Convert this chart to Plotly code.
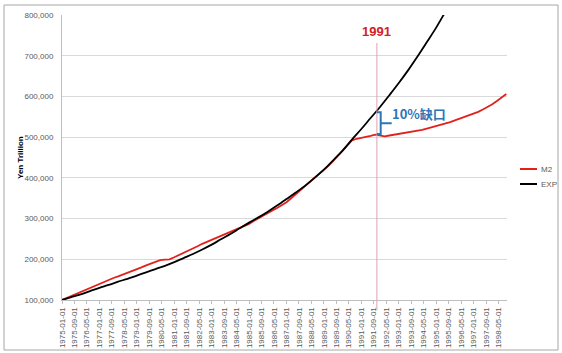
import pandas as pd
import plotly.graph_objects as go

# ---- data (values in thousand yen-units) ----
m2_start = "1975-01-01"          # quarterly M2 readings
m2_values = [100, 105, 110, 115, 120, 125, 130, 135, 140, 145, 150, 154,
             158, 162, 167, 171, 175, 180, 185, 189, 194, 198, 199, 200,
             205, 210, 215, 221, 226, 232, 238, 243, 248, 252, 257, 261,
             266, 271, 276, 281, 287, 294, 301, 308, 314, 320, 326, 332,
             340, 350, 360, 370, 380, 390, 400, 409, 418, 430, 442, 455,
             466, 478, 492, 496, 498, 500, 503, 506, 504, 502, 504, 506,
             508, 509, 511, 513, 516, 518, 521, 524, 527, 530, 534, 537,
             541, 545, 549, 553, 557, 562, 568, 574, 581, 589, 597, 606]
exp_start = "1975-01-01"         # half-yearly EXP readings
exp_values = [100, 107, 114, 122, 130, 137, 145, 152, 160, 168, 176, 184,
              193, 203, 213, 224, 236, 249, 262, 276, 290, 303, 317, 332,
              348, 364, 381, 400, 420, 443, 467, 494, 520, 547, 574, 603,
              633, 664, 698, 733, 769, 808, 848]
series_names = ["M2", "EXP"]
tick_labels = ["1975-01-01", "1975-09-01", "1976-05-01", "1977-01-01", "1977-09-01",
               "1978-05-01", "1979-01-01", "1979-09-01", "1980-05-01", "1981-01-01",
               "1981-09-01", "1982-05-01", "1983-01-01", "1983-09-01", "1984-05-01",
               "1985-01-01", "1985-09-01", "1986-05-01", "1987-01-01", "1987-09-01",
               "1988-05-01", "1989-01-01", "1989-09-01", "1990-05-01", "1991-01-01",
               "1991-09-01", "1992-05-01", "1993-01-01", "1993-09-01", "1994-05-01",
               "1995-01-01", "1995-09-01", "1996-05-01", "1997-01-01", "1997-09-01",
               "1998-05-01"]
y_ticks = [100000, 200000, 300000, 400000, 500000, 600000, 700000, 800000]
event_date = "1991-11-01"
event_label = "1991"
gap_label = "10%缺口"
y_title = "Yen Trillion"
x_end = "1998-10-15"

m2_dates = pd.date_range(m2_start, periods=len(m2_values), freq="3MS")
exp_dates = pd.date_range(exp_start, periods=len(exp_values), freq="6MS")

RED = "#e3211c"
BLUE = "#2e75b6"
GRAY = "#595959"
FONT = "Liberation Sans"
COLORS = [RED, "black"]

fig = go.Figure()
fig.add_trace(go.Scatter(x=m2_dates, y=[v * 1000 for v in m2_values], mode="lines",
                         name=series_names[0], line=dict(color=COLORS[0], width=1.8)))
fig.add_trace(go.Scatter(x=exp_dates, y=[v * 1000 for v in exp_values], mode="lines",
                         name=series_names[1], line=dict(color=COLORS[1], width=1.8,
                                                         shape="spline")))

# plot area in px: x 62..507, y 15..300
L, R, T, B = 62, 507, 15, 300
W, H = R - L, B - T
px = lambda v: (v - L) / W
py = lambda v: (B - v) / H

shapes = [
    # outer chart border
    dict(type="rect", xref="paper", yref="paper", x0=px(4), x1=px(558), y0=py(350), y1=py(5),
         line=dict(color="#a6a6a6", width=1), layer="below"),
    # event vertical line
    dict(type="line", xref="x", yref="paper", x0=event_date, x1=event_date,
         y0=py(310), y1=py(43), line=dict(color="#d9a3ae", width=1)),
    # bracket
    dict(type="path", xref="paper", yref="paper",
         path=f"M {px(376.7)},{py(112.3)} L {px(380.7)},{py(112.3)} L {px(380.7)},{py(134)} "
              f"L {px(376.7)},{py(134)} M {px(380.7)},{py(123.3)} L {px(391.7)},{py(123.3)}",
         line=dict(color=BLUE, width=2)),
]

annotations = [
    dict(text=f"<b>{event_label}</b>", xref="x", yref="paper", x=event_date, y=py(32),
         showarrow=False, font=dict(color="#d42027", size=13, family=FONT),
         xanchor="center", yanchor="middle"),
    dict(text=f"<b>{gap_label}</b>", xref="paper", yref="paper", x=px(390), y=py(114),
         showarrow=False, font=dict(color=BLUE, size=13, family="Noto Sans CJK SC"),
         xanchor="left", yanchor="middle"),
    dict(text=f"<b>{y_title}</b>", xref="paper", yref="paper", x=px(20), y=py(158),
         showarrow=False, textangle=-90, font=dict(color="black", size=8, family=FONT),
         xanchor="center", yanchor="middle"),
]

# manual legend (right side)
for i, (name, col) in enumerate(zip(series_names, COLORS)):
    ly = 169 + 15 * i
    shapes.append(dict(type="line", xref="paper", yref="paper", x0=px(520), x1=px(537),
                       y0=py(ly), y1=py(ly), line=dict(color=col, width=2)))
    annotations.append(dict(text=name, xref="paper", yref="paper", x=px(539), y=py(ly),
                            showarrow=False, xanchor="left", yanchor="middle",
                            font=dict(size=8, color=GRAY, family=FONT)))

fig.update_layout(
    width=562, height=353,
    margin=dict(l=L, r=562 - R, t=T, b=353 - B, autoexpand=False),
    paper_bgcolor="white", plot_bgcolor="white",
    font=dict(family=FONT, size=8, color=GRAY),
    showlegend=False,
    shapes=shapes,
    annotations=annotations,
    xaxis=dict(type="date", range=[m2_start, x_end], tickmode="array",
               tickvals=tick_labels, ticktext=tick_labels, tickangle=-90,
               showgrid=False, showline=True, linecolor="#bfbfbf", linewidth=1,
               ticks="outside", ticklen=3, tickcolor="#bfbfbf", automargin=False,
               tickfont=dict(size=8, color=GRAY), zeroline=False),
    yaxis=dict(range=[100000, 800000], tickmode="array", tickvals=y_ticks,
               tickformat=",", showgrid=True, gridcolor="#d9d9d9", gridwidth=1,
               showline=True, linecolor="#bfbfbf", linewidth=1, zeroline=False,
               automargin=False,
               tickfont=dict(size=8, color=GRAY), ticks="", ticklabelstandoff=6),
)

fig.write_html("out.html")
